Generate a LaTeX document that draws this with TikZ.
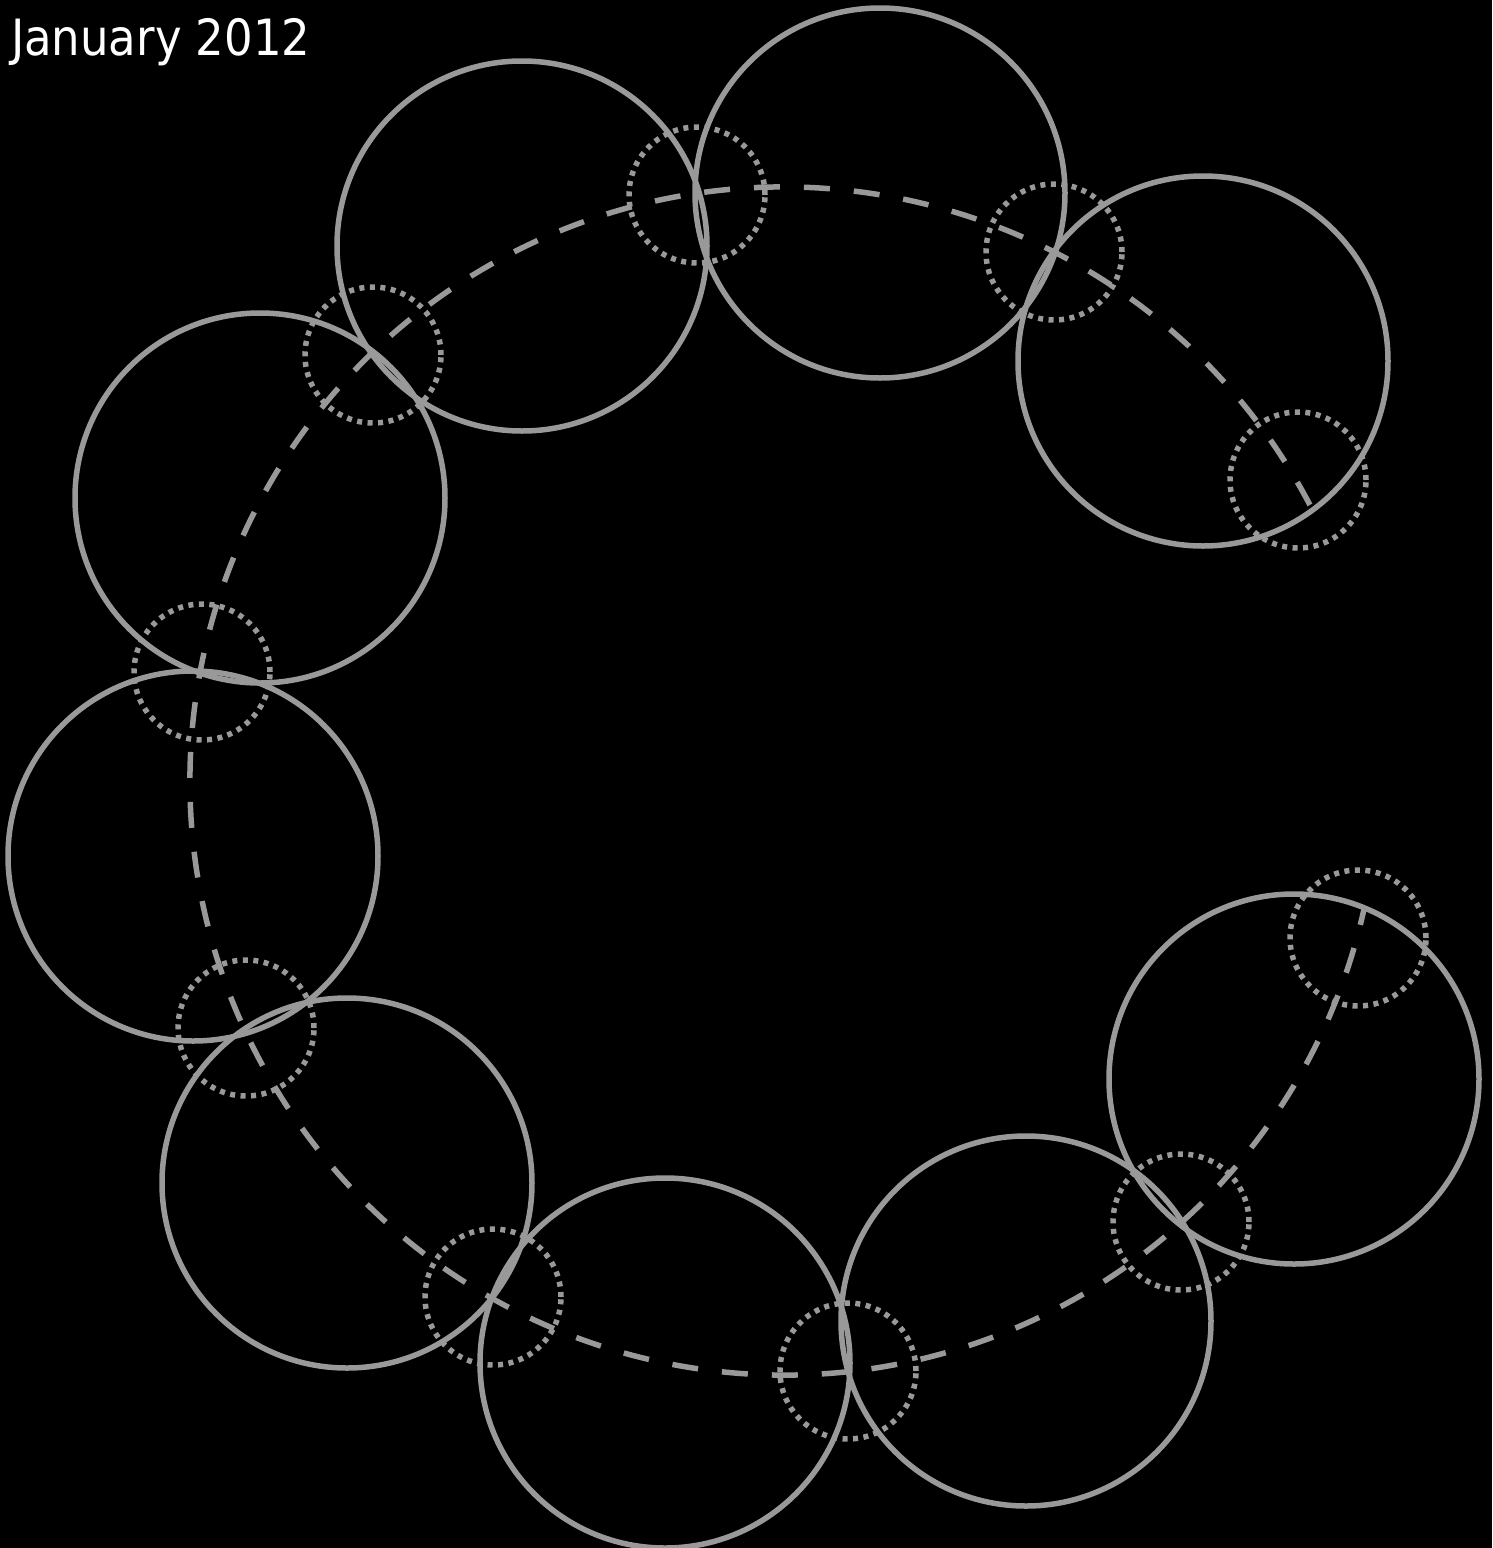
\documentclass[tikz,border=0pt]{standalone}
\usepackage{fontspec}
\setsansfont{DejaVu Sans Condensed}
\usetikzlibrary{positioning}
\definecolor{rgGray}{RGB}{153,153,153}

\begin{document}
\begin{tikzpicture}[
    x=1pt, y=-1pt,
    bigring/.style={circle, draw=rgGray, line width=5.5pt, minimum size=370pt, inner sep=0pt},
    smallring/.style={circle, draw=rgGray, line width=5.5pt, minimum size=136pt, inner sep=0pt, dash pattern=on 5pt off 5.5pt},
    track/.style={draw=rgGray, line width=5.5pt, dash pattern=on 26pt off 24pt},
    title/.style={font=\sffamily\fontsize{50}{60}\selectfont, text=white, inner sep=0pt}
]
  \fill[black] (0,0) rectangle (1492,1548);
  \useasboundingbox (0,0) rectangle (1492,1548);

  \node[title, anchor=base west] (month) at (11,55) {January 2012};

  % large rings
  \node[bigring] (r1) at (522,246) {};
  \node[bigring] (r2) at (880,193) {};
  \node[bigring] (r3) at (1203,361) {};
  \node[bigring] (r4) at (260,498) {};
  \node[bigring] (r5) at (193,856) {};
  \node[bigring] (r6) at (347,1183) {};
  \node[bigring] (r7) at (665,1363) {};
  \node[bigring] (r8) at (1026,1321) {};
  \node[bigring] (r9) at (1294,1079) {};

  % small dotted rings
  \node[smallring] (s1) at (697,195) {};
  \node[smallring] (s2) at (1054,252) {};
  \node[smallring] (s3) at (1298,480) {};
  \node[smallring] (s4) at (373,355) {};
  \node[smallring] (s5) at (202,672) {};
  \node[smallring] (s6) at (246,1028) {};
  \node[smallring] (s7) at (493,1297) {};
  \node[smallring] (s8) at (848,1371) {};
  \node[smallring] (s9) at (1181,1222) {};
  \node[smallring] (s10) at (1358,938) {};

  % dashed track
  \coordinate (hub) at (784,781);
  \draw[track] (hub) ++(27.7:594pt) arc[start angle=27.7, end angle=347.5, radius=594pt];
\end{tikzpicture}
\end{document}
